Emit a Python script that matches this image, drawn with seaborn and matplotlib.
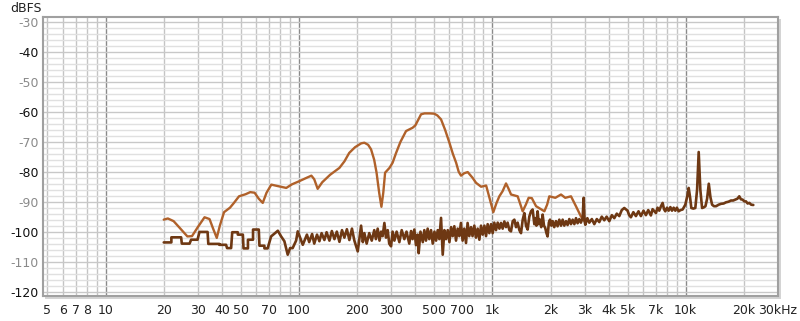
import numpy as np
import pandas as pd
import seaborn as sns
import matplotlib
matplotlib.use("Agg")
import matplotlib.pyplot as plt
from matplotlib.patches import Rectangle

# upper trace (lighter brown), 20 Hz .. 3 kHz
upper_freq = [20, 21, 22.5, 24, 26.5, 28, 30, 32.5, 34.5, 36, 37.6, 39, 41, 44, 46, 49, 53, 56, 59, 62,
              65, 68, 72, 78, 86, 92, 100, 108, 116, 120, 125, 132, 145, 162, 172, 182, 195, 210, 218, 228,
              236, 245, 252, 260, 267, 273, 279, 294, 305, 318, 335, 358, 387, 400, 415, 428, 446, 475, 501, 520,
              543, 570, 600, 625, 650, 670, 689, 715, 746, 790, 824, 875, 929, 960, 1012, 1050, 1087, 1130, 1177, 1210,
              1250, 1352, 1390, 1435, 1490, 1541, 1600, 1683, 1858, 1920, 1971, 2117, 2265, 2383, 2551, 2706, 2871, 3000]
upper_db = [-96.0, -95.6, -96.5, -98.5, -101.6, -101.5, -98.5, -95.2, -95.8, -99.0, -102.1, -98.0, -93.5, -92.0, -90.5, -88.2, -87.5, -86.8, -87.0, -89.0,
            -90.4, -87.0, -84.3, -84.8, -85.4, -84.2, -83.2, -82.2, -81.3, -82.5, -85.7, -83.5, -81.0, -78.7, -76.5, -73.7, -71.8, -70.5, -70.3, -71.0,
            -72.5, -76.0, -80.3, -87.0, -91.7, -87.0, -80.3, -78.7, -77.0, -73.7, -70.0, -66.4, -65.3, -64.5, -62.5, -60.8, -60.5, -60.5, -60.6, -61.2,
            -62.5, -66.0, -70.3, -74.0, -77.0, -80.0, -81.3, -80.5, -80.1, -82.0, -83.7, -85.0, -84.6, -88.0, -93.5, -90.5, -88.2, -86.5, -83.9, -85.5,
            -87.6, -88.2, -90.5, -93.2, -91.0, -88.7, -88.8, -91.5, -93.2, -91.0, -88.2, -88.7, -87.6, -88.7, -88.2, -91.5, -94.9, -96.5]

# lower trace (dark brown), stepped at low frequencies, noisy above
lower_freq = [20, 21.9, 21.9, 24.6, 24.8, 27.2, 27.7, 29.9, 30.6, 33.7, 34.0, 38.8, 38.8, 42.0, 42.5, 44.6, 45.2, 48.3, 48.3, 51.3,
              51.7, 54.5, 54.5, 57.9, 57.9, 62.0, 62.5, 66.3, 66.3, 68.9, 71.8, 77.8, 80.9, 84.1, 87.5, 90, 92.8, 96.7, 98.6, 104.7,
              110, 113, 117, 120, 124, 127.6, 131, 135.4, 139, 143.8, 148, 152.6, 157, 162, 167, 171.8, 177, 182.3, 188, 193.5,
              201.4, 209.6, 214, 218, 224, 231, 238, 245.2, 250, 255.4, 261, 266, 271, 276.6, 282, 287.8, 293, 299.5, 305, 311.6,
              320, 330.6, 340, 350.8, 360, 372, 380, 387, 395, 403, 411, 416, 425, 437, 445, 454, 463, 472, 482, 492,
              502, 512, 522, 532, 543, 554, 565, 576, 588, 600, 612, 624, 636, 649, 662, 675, 688, 702, 716, 731,
              745, 760, 776, 790, 807, 823, 840, 857, 874, 892, 910, 928, 946, 965, 985, 1004, 1024, 1045, 1066, 1088,
              1109, 1131, 1154, 1177, 1200, 1225, 1249, 1275, 1300, 1326, 1352, 1380, 1407, 1436, 1464, 1493, 1523, 1553, 1585, 1616,
              1649, 1667, 1690, 1714, 1740, 1763, 1790, 1820, 1850, 1878, 1905, 1931, 1960, 1987, 2020, 2051, 2090, 2134, 2175, 2220,
              2265, 2310, 2355, 2404, 2450, 2501, 2550, 2602, 2655, 2708, 2760, 2817, 2870, 2931, 2966, 3000, 3025, 3100, 3172, 3270,
              3367, 3470, 3573, 3680, 3792, 3900, 4025, 4150, 4272, 4400, 4534, 4670, 4811, 5003, 5100, 5207, 5360, 5526, 5700, 5865,
              6050, 6224, 6400, 6605, 6740, 7016, 7150, 7299, 7450, 7595, 7720, 7840, 8000, 8160, 8330, 8490, 8660, 8834, 9000, 9190,
              9400, 9640, 9950, 10200, 10360, 10530, 10690, 10950, 11210, 11450, 11670, 11900, 12150, 12400, 12650, 12900, 13160, 13420, 13690, 14000,
              14350, 14800, 15230, 15700, 16160, 16650, 17140, 17600, 18050, 18500, 18920, 19300, 19680, 20100, 20490, 20900, 21330, 21800, 22360]
lower_db = [-103.6, -103.6, -101.9, -101.9, -104.0, -104.0, -102.7, -102.7, -100.1, -100.1, -104.1, -104.1, -104.4, -104.4, -105.5, -105.5, -100.2, -100.2, -101.0, -101.0,
            -105.6, -105.6, -102.7, -102.7, -99.3, -99.3, -104.7, -104.7, -105.6, -105.6, -101.6, -99.7, -101.6, -103.2, -107.7, -105.5, -105.5, -103.0, -99.9, -104.4,
            -101.0, -103.5, -100.8, -104.0, -101.0, -103.2, -100.5, -102.8, -100.2, -103.0, -99.8, -102.5, -100.0, -103.4, -99.5, -102.0, -99.2, -102.8, -99.0, -103.0,
            -106.6, -98.0, -103.5, -100.5, -104.0, -100.5, -103.0, -99.5, -102.5, -99.0, -103.0, -100.0, -101.5, -97.1, -102.0, -99.5, -104.0, -104.9, -100.0, -103.0,
            -100.0, -103.5, -99.5, -102.5, -100.0, -104.0, -99.8, -102.5, -99.3, -104.5, -101.0, -107.2, -100.0, -103.5, -99.5, -103.0, -99.0, -102.5, -99.5, -104.0,
            -100.0, -103.0, -99.5, -102.5, -95.4, -107.7, -99.5, -102.5, -99.5, -103.5, -98.5, -101.5, -98.2, -103.0, -99.0, -101.5, -97.1, -103.0, -99.0, -103.8,
            -97.1, -101.5, -98.5, -101.5, -98.0, -102.0, -99.0, -102.7, -98.0, -101.0, -98.0, -101.5, -97.5, -100.5, -97.5, -100.5, -97.0, -99.5, -97.0, -99.0,
            -97.1, -99.0, -96.6, -98.5, -97.0, -99.5, -99.9, -96.5, -96.0, -98.5, -97.0, -99.5, -100.5, -96.0, -93.8, -98.0, -99.3, -95.0, -93.2, -92.6,
            -97.5, -95.5, -98.0, -93.2, -97.5, -96.0, -98.5, -94.3, -98.0, -98.8, -100.5, -101.6, -97.0, -96.0, -98.0, -96.5, -98.5, -96.5, -98.2, -96.0,
            -98.0, -96.0, -98.0, -96.5, -97.8, -95.8, -97.5, -96.0, -97.5, -95.5, -97.2, -95.8, -97.0, -95.4, -88.7, -96.5, -97.7, -95.5, -97.0, -95.8,
            -97.5, -95.8, -96.8, -95.0, -96.2, -95.0, -96.5, -94.5, -95.5, -94.0, -94.8, -92.8, -92.1, -93.0, -94.5, -95.2, -93.5, -94.8, -93.2, -94.8,
            -93.0, -94.5, -92.8, -94.6, -92.5, -93.8, -92.0, -93.0, -91.5, -90.4, -92.5, -93.2, -92.0, -93.0, -91.8, -93.0, -92.0, -93.0, -92.0, -93.2,
            -92.8, -92.6, -91.0, -88.0, -85.4, -88.5, -92.1, -92.3, -92.1, -86.0, -73.4, -86.0, -92.1, -91.9, -91.5, -89.0, -84.0, -88.5, -91.0, -91.5,
            -91.5, -91.0, -90.7, -90.6, -90.2, -90.0, -89.6, -89.6, -89.3, -89.0, -88.2, -89.2, -89.3, -89.9, -89.9, -90.6, -90.4, -91.0, -91.1]

tick_freqs = [5, 6, 7, 8, 10, 20, 30, 40, 50, 70, 100, 200, 300, 500, 700, 1000,
              2000, 3000, 4000, 5000, 7000, 10000, 20000, 30000]
tick_labels = ["5", "6", "7", "8", "10", "20", "30", "40", "50", "70", "100", "200", "300", "500", "700", "1k",
               "2k", "3k", "4k", "5k", "7k", "10k", "20k", "30kHz"]
y_ticks = [-30, -40, -50, -60, -70, -80, -90, -100, -110, -120]

sns.set_style("white")
plt.rcParams['font.family'] = ['DejaVu Sans']

fig = plt.figure(figsize=(8.0, 3.21), dpi=100)
ax = fig.add_axes([43 / 800, 1 - 296 / 321, 735 / 800, 279 / 321])

# drop shadow behind the frame
fig.patches.append(Rectangle((45 / 800, 1 - 299 / 321), 736 / 800, 280 / 321,
                             transform=fig.transFigure, facecolor="#d4d4d4",
                             edgecolor="none", zorder=-1))

# grid
for dec in [1, 10, 100, 1000, 10000]:
    for m in range(1, 10):
        f = dec * m
        if f < 5 or f > 30000:
            continue
        if m == 1:
            ax.axvline(f, color="#8a8a8a", lw=1.0, zorder=1)
        else:
            ax.axvline(f, color="#c4c4c4", lw=1.0, zorder=1)
for v in range(-120, -28, 2):
    ax.axhline(v, color="#c8c8c8" if v % 10 == 0 else "#e0e0e0", lw=1.0, zorder=1)

up = pd.DataFrame({"freq": upper_freq, "db": upper_db})
lo = pd.DataFrame({"freq": lower_freq, "db": lower_db})
sns.lineplot(data=up, x="freq", y="db", ax=ax, color="#b0612a", lw=1.7,
             estimator=None, sort=False, zorder=3)
sns.lineplot(data=lo, x="freq", y="db", ax=ax, color="#6e3813", lw=1.9,
             estimator=None, sort=False, zorder=4)

ax.set_xscale("log")
ax.set_xlim(4.75, 30000)
ax.set_ylim(-121.5, -28.3)
ax.set_xticks(tick_freqs)
ax.set_xticklabels(tick_labels)
ax.xaxis.set_minor_locator(matplotlib.ticker.NullLocator())
ax.set_yticks(y_ticks)
ax.set_yticklabels([str(t) for t in y_ticks])
for t, lab in zip(y_ticks, ax.get_yticklabels()):
    lab.set_color("#111111" if t % 20 == 0 else "#8a8a8a")
ax.tick_params(axis="both", length=0, labelsize=9)
ax.tick_params(axis="x", pad=6, colors="#222222")
ax.tick_params(axis="y", pad=3)
ax.set_xlabel("")
ax.set_ylabel("")

for s in ax.spines.values():
    s.set_color("#a0a0a0")
    s.set_linewidth(1.5)

fig.text(10 / 800, 1 - 9 / 321, "dBFS", fontsize=9, color="#222222", va="center", ha="left")

fig.savefig("out.png", dpi=100, facecolor="white")
